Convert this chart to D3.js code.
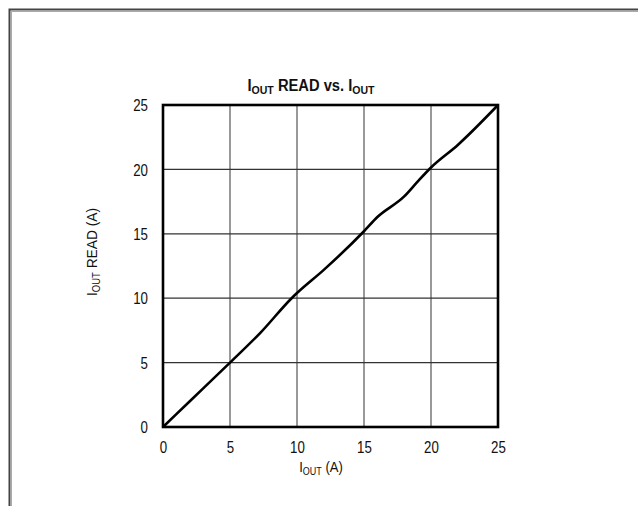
<!DOCTYPE html>
<html><head><meta charset="utf-8">
<script src="https://cdn.jsdelivr.net/npm/d3@7"></script>
<style>
body{margin:0;background:#fff;}
text{font-family:"Liberation Sans Narrow","Arial Narrow","Liberation Sans",Arial,sans-serif;fill:#111;}
</style></head>
<body>
<svg id="c" width="638" height="506"></svg>
<script>
const xData = [0, 2, 5, 7.3, 9.6, 10, 12, 15, 16, 18, 19, 20, 22, 25];
const yData = [0, 2, 5, 7.35, 10, 10.4, 12.2, 15.2, 16.3, 17.9, 19.05, 20.15, 21.9, 25];
const xTicks = [0, 5, 10, 15, 20, 25];
const yTicks = [0, 5, 10, 15, 20, 25];

const SX = 0.83; // horizontal compression to mimic a narrow face
const svg = d3.select("#c");
const L = 163, R = 498, T = 105, B = 427;
const x = d3.scaleLinear().domain([0, 25]).range([L, R]);
const y = d3.scaleLinear().domain([0, 25]).range([B, T]);

// outer frame
svg.append("rect").attr("x", 9.5).attr("y", 9.5).attr("width", 700).attr("height", 600)
  .attr("fill", "none").attr("stroke", "#444").attr("stroke-width", 2);
svg.append("rect").attr("x", 11.5).attr("y", 11.5).attr("width", 700).attr("height", 600)
  .attr("fill", "none").attr("stroke", "#aaa").attr("stroke-width", 1);

// grid
svg.append("g").selectAll("line").data(xTicks.slice(1, -1)).join("line")
  .attr("x1", d => x(d)).attr("x2", d => x(d)).attr("y1", T).attr("y2", B)
  .attr("stroke", "#777").attr("stroke-width", 1.5);
svg.append("g").selectAll("line").data(yTicks.slice(1, -1)).join("line")
  .attr("y1", d => y(d)).attr("y2", d => y(d)).attr("x1", L).attr("x2", R)
  .attr("stroke", "#333").attr("stroke-width", 1.2);

// axes tick labels
const xAxis = d3.axisBottom(x).tickValues(xTicks).tickSize(0).tickPadding(14);
const gx = svg.append("g").attr("transform", `translate(0,${B})`).call(xAxis);
gx.select(".domain").remove();
gx.selectAll("text").attr("font-size", 16).style("font-family", null)
  .attr("y", 0).attr("dy", null).attr("transform", `translate(0,26) scale(${SX},1)`);

const yAxis = d3.axisLeft(y).tickValues(yTicks).tickSize(0).tickPadding(14);
const gy = svg.append("g").attr("transform", `translate(${L},0)`).call(yAxis);
gy.select(".domain").remove();
gy.selectAll("text").attr("font-size", 16).style("font-family", null)
  .attr("x", 0).attr("dy", null).attr("transform", `translate(-15,5.7) scale(${SX},1)`);

// data line
const line = d3.line().x(d => x(d[0])).y(d => y(d[1])).curve(d3.curveMonotoneX);
svg.append("path").datum(xData.map((v, i) => [v, yData[i]]))
  .attr("d", line).attr("fill", "none").attr("stroke", "#000").attr("stroke-width", 2.6)
  .attr("stroke-linejoin", "round");

// plot frame
svg.append("rect").attr("x", L).attr("y", T).attr("width", R - L).attr("height", B - T)
  .attr("fill", "none").attr("stroke", "#000").attr("stroke-width", 2.6);

// title
const title = svg.append("text").attr("transform", `translate(311,91) scale(0.92,1)`)
  .attr("text-anchor", "middle").attr("font-size", 16).attr("font-weight", "bold");
title.append("tspan").text("I");
title.append("tspan").attr("font-size", 11.5).attr("dy", 3).text("OUT");
title.append("tspan").attr("dy", -3).text(" READ vs. I");
title.append("tspan").attr("font-size", 11.5).attr("dy", 3).text("OUT");

// x title
const xt = svg.append("text").attr("transform", `translate(321,472) scale(0.9,1)`)
  .attr("text-anchor", "middle").attr("font-size", 14.5);
xt.append("tspan").text("I");
xt.append("tspan").attr("font-size", 10).attr("dy", 3).text("OUT");
xt.append("tspan").attr("dy", -3).text(" (A)");

// y title
const yt = svg.append("text").attr("transform", `translate(97,252) rotate(-90) scale(0.95,1)`)
  .attr("text-anchor", "middle").attr("font-size", 14.5);
yt.append("tspan").text("I");
yt.append("tspan").attr("font-size", 10).attr("dy", 3).text("OUT");
yt.append("tspan").attr("dy", -3).text(" READ (A)");
</script>
</body></html>
